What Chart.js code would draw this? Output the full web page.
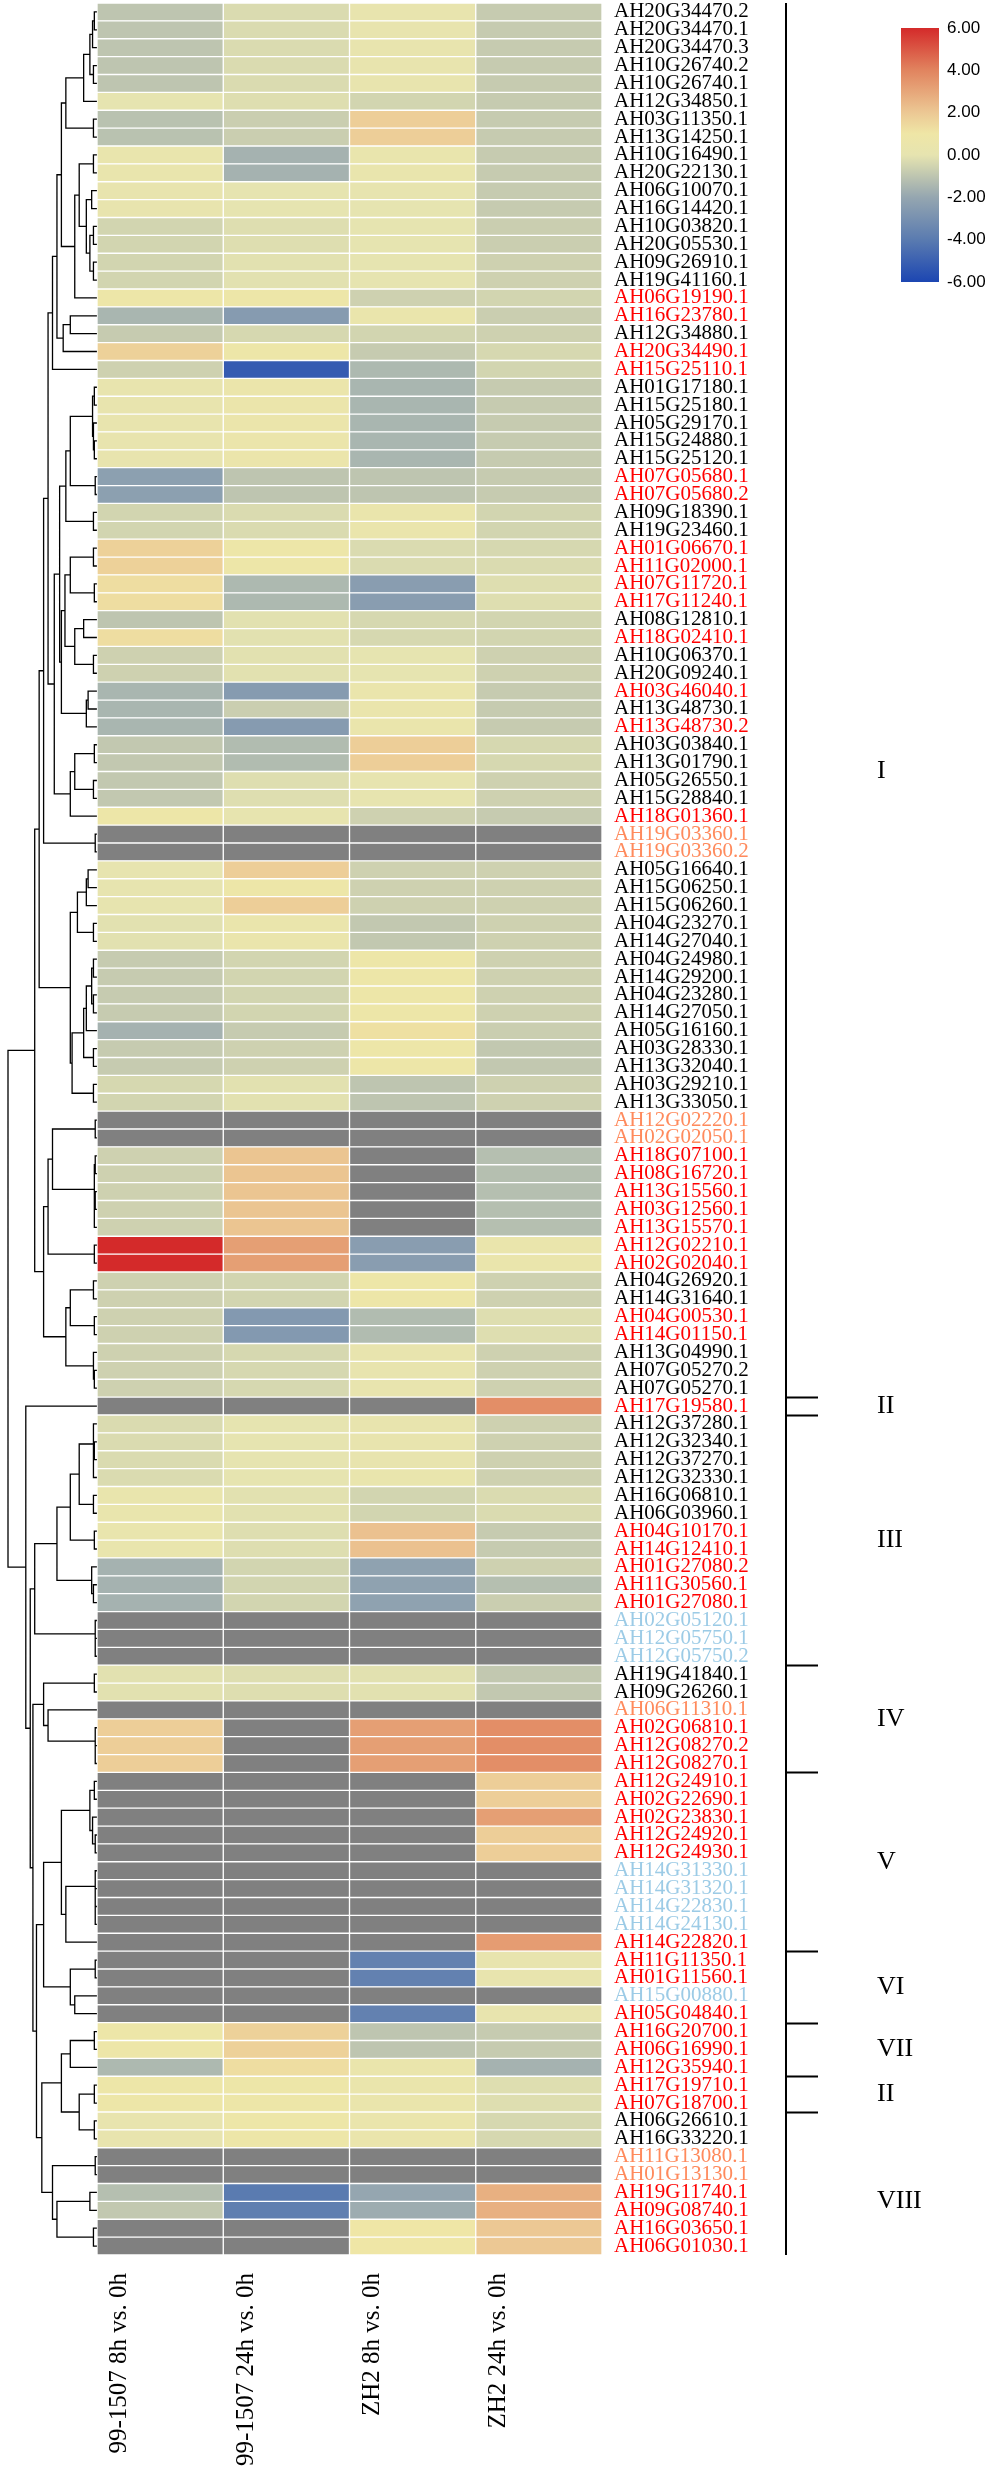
<!DOCTYPE html>
<html>
<head>
<meta charset="utf-8">
<script src="https://cdn.jsdelivr.net/npm/chart.js@4.4.0/dist/chart.umd.min.js"></script>
<style>
  html, body { margin: 0; padding: 0; background: #fff; }
</style>
</head>
<body>
<canvas id="heat" width="988" height="2480"></canvas>
<script>
// gene ids, top to bottom
const genes = [
  'AH20G34470.2','AH20G34470.1','AH20G34470.3','AH10G26740.2','AH10G26740.1','AH12G34850.1','AH03G11350.1','AH13G14250.1','AH10G16490.1','AH20G22130.1',
  'AH06G10070.1','AH16G14420.1','AH10G03820.1','AH20G05530.1','AH09G26910.1','AH19G41160.1','AH06G19190.1','AH16G23780.1','AH12G34880.1','AH20G34490.1',
  'AH15G25110.1','AH01G17180.1','AH15G25180.1','AH05G29170.1','AH15G24880.1','AH15G25120.1','AH07G05680.1','AH07G05680.2','AH09G18390.1','AH19G23460.1',
  'AH01G06670.1','AH11G02000.1','AH07G11720.1','AH17G11240.1','AH08G12810.1','AH18G02410.1','AH10G06370.1','AH20G09240.1','AH03G46040.1','AH13G48730.1',
  'AH13G48730.2','AH03G03840.1','AH13G01790.1','AH05G26550.1','AH15G28840.1','AH18G01360.1','AH19G03360.1','AH19G03360.2','AH05G16640.1','AH15G06250.1',
  'AH15G06260.1','AH04G23270.1','AH14G27040.1','AH04G24980.1','AH14G29200.1','AH04G23280.1','AH14G27050.1','AH05G16160.1','AH03G28330.1','AH13G32040.1',
  'AH03G29210.1','AH13G33050.1','AH12G02220.1','AH02G02050.1','AH18G07100.1','AH08G16720.1','AH13G15560.1','AH03G12560.1','AH13G15570.1','AH12G02210.1',
  'AH02G02040.1','AH04G26920.1','AH14G31640.1','AH04G00530.1','AH14G01150.1','AH13G04990.1','AH07G05270.2','AH07G05270.1','AH17G19580.1','AH12G37280.1',
  'AH12G32340.1','AH12G37270.1','AH12G32330.1','AH16G06810.1','AH06G03960.1','AH04G10170.1','AH14G12410.1','AH01G27080.2','AH11G30560.1','AH01G27080.1',
  'AH02G05120.1','AH12G05750.1','AH12G05750.2','AH19G41840.1','AH09G26260.1','AH06G11310.1','AH02G06810.1','AH12G08270.2','AH12G08270.1','AH12G24910.1',
  'AH02G22690.1','AH02G23830.1','AH12G24920.1','AH12G24930.1','AH14G31330.1','AH14G31320.1','AH14G22830.1','AH14G24130.1','AH14G22820.1','AH11G11350.1',
  'AH01G11560.1','AH15G00880.1','AH05G04840.1','AH16G20700.1','AH06G16990.1','AH12G35940.1','AH17G19710.1','AH07G18700.1','AH06G26610.1','AH16G33220.1',
  'AH11G13080.1','AH01G13130.1','AH19G11740.1','AH09G08740.1','AH16G03650.1','AH06G01030.1'
];

// label colour group per gene: k black, r red, o orange, b light blue
const labelGroup = ('kkkkkkkkkkkkkkkk' + 'rr' + 'k' + 'rr' + 'kkkkk' + 'rr' + 'kk' + 'rrrr' + 'k' + 'r' + 'kk' + 'r' + 'k' + 'r' +
  'kkkk' + 'r' + 'oo' + 'kkkkkkkkkkkkkk' + 'oo' + 'rrrrrrr' + 'kk' + 'rr' + 'kkk' + 'r' + 'kkkkkk' + 'rrrrr' + 'bbb' + 'kk' +
  'o' + 'rrrrrrrr' + 'bbbb' + 'rrr' + 'b' + 'rrrrrr' + 'kk' + 'oo' + 'rrrr').split('');
const groupColors = { k: '#000000', r: '#ff0000', o: '#ff8a5c', b: '#9ccbe6' };

const colNames = ['99-1507 8h vs. 0h', '99-1507 24h vs. 0h', 'ZH2 8h vs. 0h', 'ZH2 24h vs. 0h'];

// log2 fold change, null = no data (grey)
const v9915_8h = [
  -1.0,-1.0,-1.0,-1.0,-1.0, 0.0,-1.1,-1.1, 0.3, 0.3,
   0.2, 0.2,-0.5,-0.5,-0.5,-0.5, 0.8,-1.5,-0.8, 1.7,
  -0.6, 0.2, 0.2, 0.2, 0.2, 0.2,-2.3,-2.3,-0.5,-0.5,
   1.7, 1.7, 1.3, 1.3,-1.0, 1.3,-0.6,-0.6,-1.5,-1.5,
  -1.5,-0.9,-0.9,-0.9,-0.9, 0.8, null, null, 0.1, 0.1,
   0.1,-0.1,-0.1,-0.8,-0.8,-0.8,-0.8,-1.6,-0.8,-0.8,
  -0.4,-0.5, null, null,-0.6,-0.6,-0.6,-0.6,-0.6, 6.0,
   6.0,-0.6,-0.6,-0.6,-0.6,-0.6,-0.6,-0.6, null,-0.3,
  -0.3,-0.3,-0.3, 0.3, 0.3, 0.3, 0.3,-1.6,-1.6,-1.6,
   null, null, null,-0.1,-0.1, null, 1.8, 1.8, 1.8, null,
   null, null, null, null, null, null, null, null, null, null,
   null, null, null, 0.8, 0.8,-1.4, 0.8, 0.8, 0.2, 0.2,
   null, null,-1.2,-0.9, null, null
];
const v9915_24h = [
  -0.3,-0.3,-0.3,-0.3,-0.3,-0.2,-0.7,-0.7,-1.6,-1.6,
   0.0, 0.0,-0.2,-0.2,-0.1,-0.1, 0.8,-2.5,-0.4, 0.8,
  -5.2, 0.5, 0.5, 0.5, 0.5, 0.5,-1.0,-1.0,-0.3,-0.3,
   0.8, 0.8,-1.4,-1.4,-0.1,-0.1,-0.1,-0.1,-2.5,-0.7,
  -2.5,-1.3,-1.3,-0.2,-0.2, 0.1, null, null, 1.8, 0.8,
   1.8, 0.4, 0.4,-0.5,-0.5,-0.5,-0.5,-0.8,-0.6,-0.6,
  -0.1,-0.1, null, null, 2.1, 2.1, 2.1, 2.1, 2.1, 3.2,
   3.2,-0.5,-0.5,-2.6,-2.6,-0.4,-0.4,-0.4, null, 0.0,
   0.0, 0.0, 0.0,-0.1,-0.1,-0.2,-0.2,-0.5,-0.5,-0.5,
   null, null, null,-0.2,-0.2, null, null, null, null, null,
   null, null, null, null, null, null, null, null, null, null,
   null, null, null, 1.7, 1.7, 1.3, 0.8, 0.8, 0.8, 0.8,
   null, null,-4.0,-3.8, null, null
];
const zh2_8h = [
   0.2, 0.2, 0.2, 0.2, 0.2,-0.5, 1.8, 1.8, 0.3, 0.3,
   0.1, 0.0, 0.0, 0.0, 0.0, 0.0,-0.6, 0.4,-0.5,-0.8,
  -1.4,-1.5,-1.5,-1.5,-1.5,-1.5,-1.0,-1.0, 0.4, 0.4,
  -0.3,-0.3,-2.4,-2.4,-0.4,-0.4, 0.0, 0.0, 0.4, 0.4,
   0.4, 1.8, 1.8, 0.1, 0.1,-0.6, null, null,-0.6,-0.6,
  -0.6,-0.9,-0.9, 0.8, 0.8, 0.8, 0.8, 1.2, 0.8, 0.8,
  -1.0,-1.0, null, null, null, null, null, null, null,-2.4,
  -2.4, 0.8, 0.8,-1.3,-1.3, 0.2, 0.2, 0.2, null, 0.2,
   0.2, 0.2, 0.3,-0.5,-0.5, 2.2, 2.2,-2.2,-2.2,-2.2,
   null, null, null,-0.1,-0.1, null, 3.2, 3.2, 3.2, null,
   null, null, null, null, null, null, null, null, null,-3.7,
  -3.7, null,-3.7,-1.0,-1.0, 0.4, 0.4, 0.4, 0.4, 0.4,
   null, null,-2.0,-1.8, 1.0, 1.0
];
const zh2_24h = [
  -0.8,-0.8,-0.8,-0.8,-0.8,-0.8,-0.8,-0.8,-0.8,-0.8,
  -0.8,-0.8,-0.7,-0.7,-0.6,-0.6,-0.5,-0.7,-0.6,-0.4,
  -0.5,-0.8,-0.8,-0.8,-0.8,-0.8,-0.8,-0.8,-0.5,-0.5,
  -0.4,-0.3,-0.2,-0.2,-0.5,-0.5,-0.6,-0.6,-0.8,-0.8,
  -0.8,-0.4,-0.4,-0.6,-0.6,-0.8, null, null,-0.6,-0.6,
  -0.6,-0.6,-0.6,-0.6,-0.6,-0.6,-0.6,-0.7,-0.9,-0.9,
  -0.6,-0.6, null, null,-1.2,-1.2,-1.2,-1.2,-1.2, 0.4,
   0.4,-0.6,-0.6,-0.2,-0.2,-0.6,-0.6,-0.6, 3.7,-0.6,
  -0.6,-0.6,-0.6,-0.3,-0.3,-0.8,-0.8,-0.6,-1.2,-0.7,
   null, null, null,-0.9,-0.9, null, 3.7, 3.7, 3.7, 1.8,
   1.8, 3.2, 1.8, 1.8, null, null, null, null, 3.3, 0.2,
   0.2, null, 0.2,-0.8,-0.8,-1.6,-0.2,-0.2,-0.4,-0.4,
   null, null, 2.7, 2.7, 2.0, 2.0
];

// dendrogram: merge height between neighbouring rows i and i+1 (1 = root)
const linkHeights = [
  0.03,0.05,0.08,0.04,0.15,0.35,0.04,0.40,0.04,0.20,
  0.06,0.12,0.04,0.08,0.04,0.25,0.45,0.30,0.38,0.50,
  0.55,0.03,0.05,0.04,0.03,0.30,0.02,0.35,0.04,0.42,
  0.04,0.30,0.03,0.36,0.15,0.25,0.04,0.40,0.10,0.12,
  0.48,0.03,0.25,0.04,0.30,0.60,0.02,0.65,0.10,0.12,
  0.22,0.04,0.30,0.04,0.06,0.04,0.12,0.15,0.04,0.28,
  0.04,0.70,0.02,0.50,0.02,0.03,0.02,0.03,0.55,0.03,
  0.60,0.04,0.30,0.03,0.35,0.04,0.03,1.00,0.80,0.04,
  0.03,0.04,0.20,0.04,0.30,0.03,0.45,0.06,0.04,0.70,
  0.02,0.02,0.75,0.03,0.60,0.55,0.02,0.02,0.72,0.03,
  0.08,0.05,0.02,0.40,0.02,0.02,0.02,0.35,0.60,0.02,
  0.30,0.25,0.68,0.03,0.30,0.40,0.03,0.20,0.03,0.62,
  0.02,0.50,0.08,0.45,0.04
];

// right-hand groups (positions in row units, 0 = first row)
const clusterBreaks = [77.5, 78.5, 92.5, 98.5, 108.5, 112.5, 115.5, 117.5];
const clusterNames = ['I', 'II', 'III', 'IV', 'V', 'VI', 'VII', 'II', 'VIII'];
const clusterLabelAt = [42.5, 78, 85.5, 95.5, 103.5, 110.5, 114, 116.5, 122.5];

// colour key
const keyTicks = [6, 4, 2, 0, -2, -4, -6];
const colorStops = [[-6, '#1c46b2'], [-4, '#5a7bb0'], [-2, '#95a6b0'], [0, '#e6e4b0'], [1, '#efe6a6'], [2, '#ecc894'], [4, '#e1845f'], [6, '#d42a2a']];
const naColor = '#808080';

function hexRgb(c) {
  return [1, 3, 5].map(i => parseInt(c.slice(i, i + 2), 16));
}
function colorFor(v) {
  if (v === null) return naColor;
  v = Math.max(-6, Math.min(6, v));
  for (let i = 1; i < colorStops.length; i++) {
    if (v <= colorStops[i][0]) {
      const a = colorStops[i - 1], b = colorStops[i];
      const t = (v - a[0]) / (b[0] - a[0]);
      const A = hexRgb(a[1]), B = hexRgb(b[1]);
      return 'rgb(' + A.map((x, k) => Math.round(x + (B[k] - x) * t)).join(',') + ')';
    }
  }
  return colorStops[colorStops.length - 1][1];
}

// dendrogram segments, splitting each range at its highest link
function dendroPoints() {
  const pts = [];
  function build(lo, hi) {
    if (lo === hi) return { y: lo, h: 0 };
    let k = lo;
    for (let i = lo; i < hi; i++) if (linkHeights[i] > linkHeights[k]) k = i;
    const L = build(lo, k), R = build(k + 1, hi), h = linkHeights[k];
    pts.push({ x: L.h, y: L.y }, { x: h, y: L.y }, { x: h, y: R.y }, { x: R.h, y: R.y }, { x: NaN, y: NaN });
    return { y: (L.y + R.y) / 2, h: h };
  }
  build(0, genes.length - 1);
  return pts;
}

const dendroWidth = 0.705;   // in column units, left of the heatmap
const serif = '"Liberation Serif", "Times New Roman", serif';

const columns = [v9915_8h, v9915_24h, zh2_8h, zh2_24h];
const datasets = columns.map((col, j) => ({
  type: 'bar',
  label: colNames[j],
  data: col.map(() => [j, j + 1]),
  backgroundColor: col.map(colorFor),
  borderColor: '#ffffff',
  borderWidth: 1,
  borderSkipped: false,
  categoryPercentage: 1,
  barPercentage: 1,
  grouped: false,
  xAxisID: 'x',
  yAxisID: 'y'
}));
datasets.push({
  type: 'line',
  label: 'tree',
  data: dendroPoints(),
  parsing: false,
  normalized: true,
  xAxisID: 'xd',
  yAxisID: 'y',
  borderColor: '#000',
  borderWidth: 1.3,
  pointRadius: 0,
  fill: false,
  spanGaps: false,
  tension: 0,
  clip: false
});

const extras = {
  id: 'extras',
  afterDraw(chart) {
    const ctx = chart.ctx;
    const ys = chart.scales.y;
    const area = chart.chartArea;
    const bx = 786;
    ctx.save();
    ctx.strokeStyle = '#000';
    ctx.lineWidth = 2;
    ctx.beginPath();
    ctx.moveTo(bx, area.top);
    ctx.lineTo(bx, area.bottom);
    clusterBreaks.forEach(b => {
      const y = Math.round(ys.getPixelForValue(b)) + 0.5;
      ctx.moveTo(bx, y);
      ctx.lineTo(bx + 32, y);
    });
    ctx.stroke();

    ctx.fillStyle = '#000';
    ctx.font = '26px ' + serif;
    ctx.textAlign = 'left';
    ctx.textBaseline = 'middle';
    clusterNames.forEach((n, i) => ctx.fillText(n, 877, ys.getPixelForValue(clusterLabelAt[i])));

    // colour key
    const kx = 901, kw = 38, ktop = 28, kbot = 282;
    const g = ctx.createLinearGradient(0, kbot, 0, ktop);
    colorStops.forEach(s => g.addColorStop((s[0] + 6) / 12, s[1]));
    ctx.fillStyle = g;
    ctx.fillRect(kx, ktop, kw, kbot - ktop);
    ctx.fillStyle = '#000';
    ctx.font = '17px "Liberation Sans", Arial, sans-serif';
    keyTicks.forEach(t => {
      const y = kbot - (t + 6) / 12 * (kbot - ktop);
      ctx.fillText(t.toFixed(2), kx + kw + 8, y);
    });
    ctx.restore();
  }
};

new Chart(document.getElementById('heat'), {
  type: 'bar',
  data: { labels: genes, datasets: datasets },
  options: {
    indexAxis: 'y',
    responsive: false,
    animation: false,
    devicePixelRatio: 1,
    layout: { padding: { left: 8, top: 3, right: 0, bottom: 5 } },
    plugins: { legend: { display: false }, tooltip: { enabled: false } },
    scales: {
      x: {
        type: 'linear',
        min: -dendroWidth,
        max: 4,
        position: 'bottom',
        grid: { display: false },
        border: { display: false },
        afterBuildTicks: s => { s.ticks = colNames.map((n, j) => ({ value: j + 0.18 })); },
        afterFit: s => { s.height = 220; s.paddingLeft = 0; s.paddingRight = 0; },
        ticks: {
          autoSkip: false,
          minRotation: 90,
          maxRotation: 90,
          padding: 10,
          color: '#000',
          font: { family: serif, size: 25 },
          callback: (v, i) => colNames[i]
        }
      },
      y: {
        type: 'category',
        position: 'right',
        grid: { display: false },
        border: { display: false },
        afterFit: s => { s.width = 386; s.paddingTop = 0; s.paddingBottom = 0; },
        ticks: {
          autoSkip: false,
          padding: 4,
          color: c => groupColors[labelGroup[c.index]],
          font: { family: serif, size: 21 }
        }
      },
      xd: { type: 'linear', display: false, reverse: true, min: -4 / dendroWidth, max: 1 }
    }
  },
  plugins: [extras]
});
</script>
</body>
</html>
